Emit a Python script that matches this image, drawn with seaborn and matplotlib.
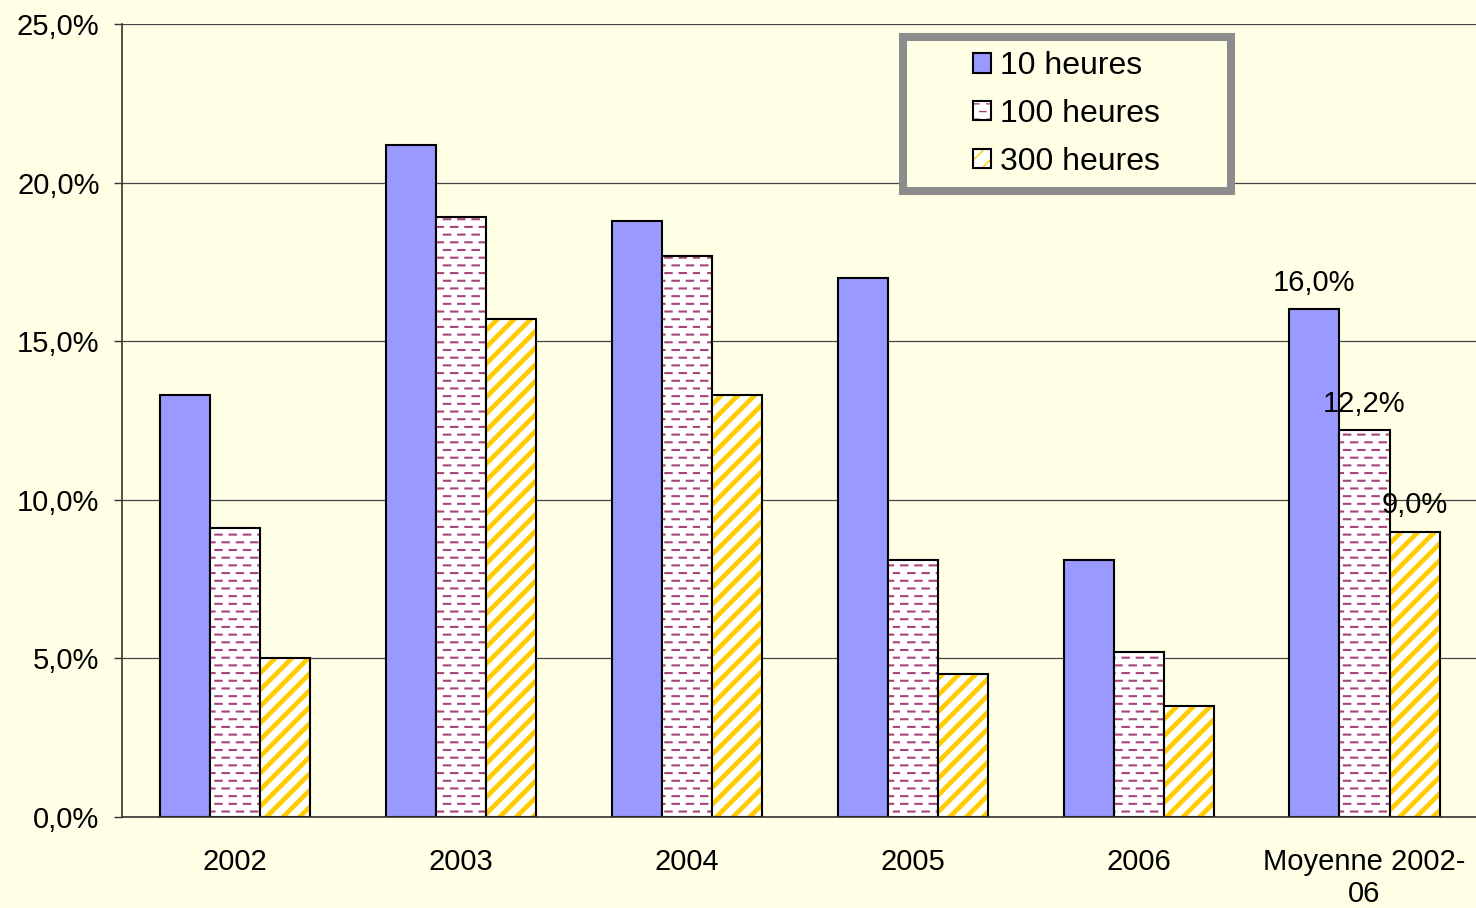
import matplotlib

matplotlib.use("Agg")
import matplotlib.hatch as mhatch
import matplotlib.pyplot as plt
import pandas as pd
import seaborn as sns
from matplotlib.patches import Rectangle
from matplotlib.path import Path
from matplotlib.ticker import FixedLocator, FuncFormatter

PERIODES = ["2002", "2003", "2004", "2005", "2006", "Moyenne 2002-\n06"]
SERIES = ["10 heures", "100 heures", "300 heures"]
VAL_10H = [13.3, 21.2, 18.8, 17.0, 8.1, 16.0]
VAL_100H = [9.1, 18.9, 17.7, 8.1, 5.2, 12.2]
VAL_300H = [5.0, 15.7, 13.3, 4.5, 3.5, 9.0]
Y_TICKS = [0, 5, 10, 15, 20, 25]

BG = "#FFFFE6"
BLUE = "#9999FF"
PINK = "#A8447A"
YELLOW = "#FFCC00"


class DashedHorizontal(mhatch.HatchPatternBase):
    """Rows of short horizontal dashes, every other row shifted (Excel-like '-' fill)."""

    def __init__(self, hatch, density):
        self.num_rows = hatch.count("-") * 13
        self.per_row = 7
        self.num_vertices = self.num_rows * self.per_row * 2

    def set_vertices_and_codes(self, vertices, codes):
        step = 1.0 / self.num_rows
        period = 1.0 / self.per_row
        k = 0
        for r in range(self.num_rows):
            y = (r + 0.5) * step
            shift = 0.0 if r % 2 == 0 else period / 2
            for c in range(self.per_row):
                x0 = c * period + shift + 0.01
                vertices[k] = (x0, y)
                vertices[k + 1] = (x0 + period * 0.45, y)
                codes[k] = Path.MOVETO
                codes[k + 1] = Path.LINETO
                k += 2


mhatch._hatch_types[mhatch._hatch_types.index(mhatch.HorizontalHatch)] = DashedHorizontal


def pct(v, _pos=None):
    return f"{v:.1f}".replace(".", ",") + "%"


sns.set_theme(style="white")
plt.rcParams["font.family"] = ["Liberation Sans", "DejaVu Sans"]
plt.rcParams["text.color"] = "black"
plt.rcParams["xtick.color"] = "black"
plt.rcParams["ytick.color"] = "black"

df = pd.DataFrame(
    {
        "periode": PERIODES * 3,
        "serie": [s for s in SERIES for _ in PERIODES],
        "valeur": VAL_10H + VAL_100H + VAL_300H,
    }
)

fig = plt.figure(figsize=(14.76, 9.08), dpi=100, facecolor=BG)
ax = fig.add_axes([0.0825, 0.1002, 0.9185, 0.8734])
ax.set_facecolor(BG)

sns.barplot(
    data=df,
    x="periode",
    y="valeur",
    hue="serie",
    order=PERIODES,
    hue_order=SERIES,
    palette=[BLUE, "white", "white"],
    width=0.664,
    saturation=1,
    edgecolor="black",
    linewidth=1.5,
    errorbar=None,
    legend=False,
    ax=ax,
)

styles = [(None, None, 0), ("-", PINK, 1.5), ("//", YELLOW, 3.4)]
for container, (hatch, hcolor, hlw) in zip(ax.containers, styles):
    if hatch is None:
        continue
    for bar in container:
        bar.set_hatch(hatch)
        bar._hatch_color = matplotlib.colors.to_rgba(hcolor)
        if hasattr(bar, "set_hatch_linewidth"):
            bar.set_hatch_linewidth(hlw)
        else:
            bar._hatch_linewidth = hlw

# labels only on the average group
for container in ax.containers:
    vals = [b.get_height() for b in container]
    labels = [""] * (len(vals) - 1) + [pct(vals[-1])]
    ax.bar_label(container, labels=labels, padding=9, fontsize=21, color="black")

ax.set_ylim(0, 25)
ax.set_xlim(-0.5, len(PERIODES) - 0.5)
ax.yaxis.set_major_locator(FixedLocator(Y_TICKS))
ax.yaxis.set_major_formatter(FuncFormatter(pct))
ax.grid(axis="y", color="#444444", linewidth=0.9)
ax.set_axisbelow(True)

ax.set_xticks(range(len(PERIODES)))
ax.set_xticklabels(PERIODES, fontsize=21, linespacing=1.15)
ax.set_xticks([i - 0.5 for i in range(len(PERIODES) + 1)], minor=True)
ax.tick_params(axis="x", which="major", length=0, pad=22.5)
ax.tick_params(axis="x", which="minor", length=6, width=1, color="#333333", direction="out")
ax.tick_params(axis="y", which="major", length=6, width=1, color="#333333", direction="out",
               labelsize=21, pad=10, left=True, labelcolor="black")
ax.set_xlabel("")
ax.set_ylabel("")

for side in ["top", "right"]:
    ax.spines[side].set_visible(False)
for side in ["left", "bottom"]:
    ax.spines[side].set_color("#333333")
    ax.spines[side].set_linewidth(1.2)

frame = Rectangle((0.576, 0.7894), 0.242, 0.1942, transform=ax.transAxes,
                  facecolor=BG, edgecolor="#8c8c8c", linewidth=5.8, zorder=4)
ax.add_patch(frame)
leg = ax.legend(
    ax.containers,
    SERIES,
    loc="center",
    bbox_to_anchor=(0.697, 0.8865),
    frameon=False,
    fontsize=23,
    handlelength=0.56,
    handleheight=0.56,
    handletextpad=0.3,
    labelspacing=0.55,
)
leg.set_zorder(5)
for t in leg.get_texts():
    t.set_color("black")

fig.savefig("out.png", dpi=100, facecolor=BG)
